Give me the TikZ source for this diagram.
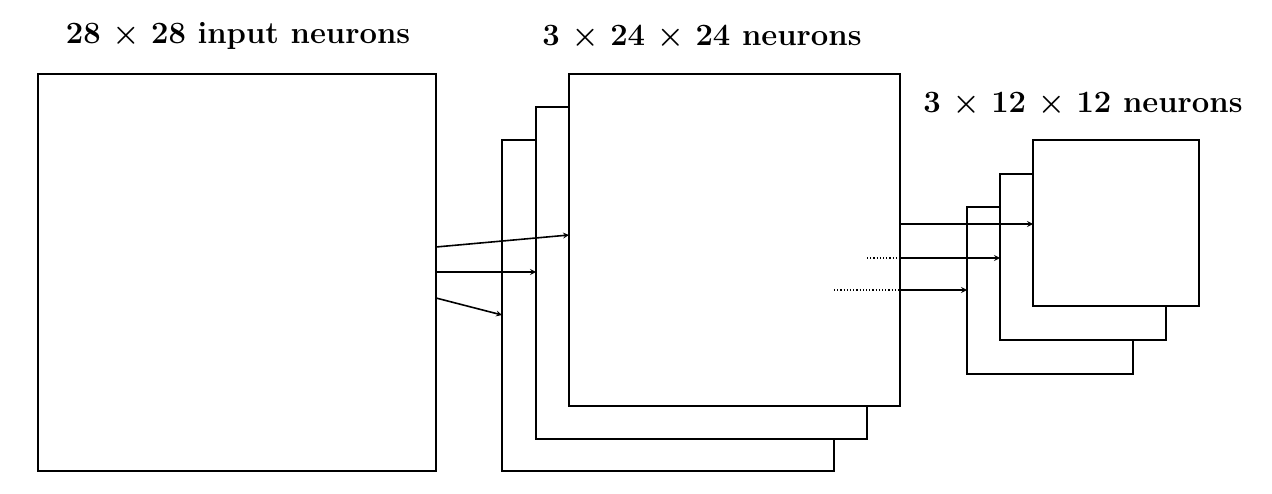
\documentclass[tikz,border=0pt]{standalone}
\begin{document}
\begin{tikzpicture}[x=1pt,y=-1pt,line width=1.6pt,
  sq/.style={draw,fill=white},
  lab/.style={font=\fontsize{31}{38}\selectfont\bfseries,inner sep=0},
  arr/.style={->,>=stealth}]
\useasboundingbox (0,0) rectangle (1272,494);
\node[lab] (t1) at (238,36) {28 × 28 input neurons};
\node[lab] (t2) at (702,36) {3 × 24 × 24 neurons};
\node[lab] (t3) at (1083,103) {3 × 12 × 12 neurons};
\draw[sq] (38,74) rectangle (436,471);
\draw[sq] (502,140) rectangle (834,471);
\draw[sq] (536,107) rectangle (867,439);
\draw[sq] (569,74) rectangle (900,406);
\draw[sq] (967,207) rectangle (1133,374);
\draw[sq] (1000,174) rectangle (1166,340);
\draw[sq] (1033,140) rectangle (1199,306);
\coordinate (a1) at (436,247); \coordinate (b1) at (569,235);
\coordinate (a2) at (436,272); \coordinate (b2) at (536,272);
\coordinate (a3) at (436,298); \coordinate (b3) at (502,315);
\draw[arr] (a1) -- (b1);
\draw[arr] (a2) -- (b2);
\draw[arr] (a3) -- (b3);
\coordinate (c1) at (900,224); \coordinate (d1) at (1033,224);
\coordinate (c2) at (900,258); \coordinate (d2) at (1000,258);
\coordinate (c3) at (900,290); \coordinate (d3) at (967,290);
\coordinate (e2) at (867,258); \coordinate (e3) at (834,290);
\draw[arr] (c1) -- (d1);
\draw[arr] (c2) -- (d2);
\draw[arr] (c3) -- (d3);
\draw[dotted,line width=1.2pt] (e2) -- (c2);
\draw[dotted,line width=1.2pt] (e3) -- (c3);
\end{tikzpicture}
\end{document}
